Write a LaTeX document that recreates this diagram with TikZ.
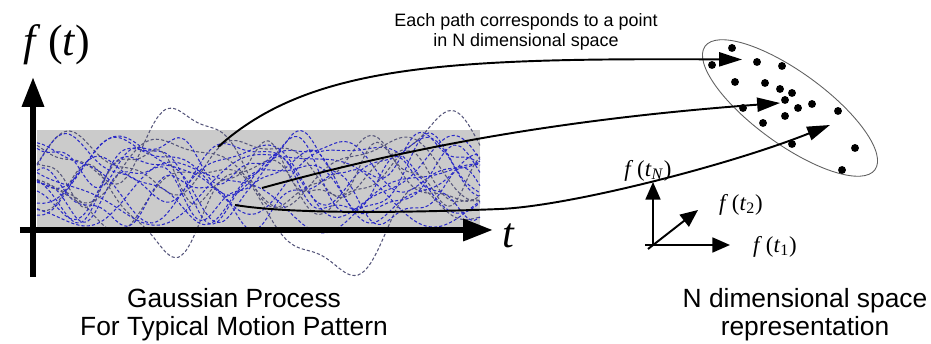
\documentclass[tikz,border=0pt]{standalone}
\usepackage{fontspec}
\setmainfont{Liberation Sans}
\newfontfamily\timesfont{Liberation Serif}
\usepackage{tikz}
\usetikzlibrary{arrows.meta,calc}
\definecolor{bandgray}{HTML}{CBCBCB}
\definecolor{pathblue}{HTML}{2A2AC8}
\definecolor{pathgray}{HTML}{55557A}
\definecolor{ringgray}{HTML}{606060}
\newcommand{\fofx}[1]{{\timesfont\textit{f}\,(#1)}}
\tikzset{
  bigaxis/.style={line width=3.4pt,-{Triangle[length=17pt,width=12pt]}},
  mapline/.style={line width=1.1pt,-{Triangle[length=13pt,width=8pt]}},
  frameaxis/.style={line width=1.1pt,-{Triangle[length=10pt,width=8.5pt]}},
  samplepath/.style={dash pattern=on 1.8pt off 1.2pt,line width=0.6pt},
  sample/.style={circle,fill=black,inner sep=0pt,minimum size=4.5pt},
  caption/.style={align=center,font=\fontsize{15}{16}\selectfont},
}

\begin{document}
\begin{tikzpicture}[scale=1]
  \useasboundingbox (0,0) rectangle (18.62,6.88);
  \fill[bandgray] (0.74,2.28) rectangle (9.60,4.28);
  \foreach \c/\a/\f/\p/\b/\m/\col in {
      3.4/0.6/110/0/1.1/3.2/pathgray, 3.0/0.6/95/60/-1.7/7.2/pathgray,
      3.2/0.5/120/200/-1.0/3.1/pathgray, 3.6/0.5/100/300/0.5/9.2/pathgray,
      3.3/0.7/90/0/0/0/pathblue, 3.2/0.6/115/120/0/0/pathblue,
      3.4/0.65/80/240/0/0/pathblue, 3.1/0.5/140/45/0/0/pathblue,
      3.5/0.55/105/300/0/0/pathblue, 3.0/0.6/70/180/0/0/pathblue,
      3.3/0.75/125/90/0/0/pathblue, 3.6/0.45/95/200/0/0/pathblue,
      2.9/0.45/130/330/0/0/pathblue, 3.4/0.5/150/20/0/0/pathgray,
      3.2/0.7/60/100/0/0/pathblue, 3.5/0.6/85/150/0/0/pathgray,
      3.1/0.55/100/230/0/0/pathblue, 3.7/0.4/135/10/0/0/pathblue} {
    \draw[samplepath,\col] plot[smooth,domain=0.74:9.6,samples=70]
      (\x,{\c+\a*sin(\f*\x+\p)+0.18*sin(2.3*\f*\x+1.7*\p)+\b*exp(-(\x-\m)*(\x-\m))});
  }

  \coordinate (vbot) at (0.66,1.34);
  \coordinate (vtop) at (0.66,5.34);
  \coordinate (hleft) at (0.40,2.28);
  \coordinate (hright) at (9.86,2.28);
  \draw[bigaxis] (vbot) -- (vtop);
  \draw[bigaxis] (hleft) -- (hright);
  \node (ftlabel) at (1.14,5.98) {\fontsize{25}{28}\selectfont\fofx{\textit{t}}};
  \node (tlabel) at (10.18,2.16) {\fontsize{24}{28}\selectfont\timesfont\textit{t}};

  \draw[ringgray,line width=0.5pt,rotate around={-36:(15.80,4.72)}]
    (15.80,4.72) ellipse [x radius=2.10cm,y radius=0.72cm];
  \foreach \x/\y [count=\i] in {14.64/5.92,14.24/5.58,15.14/5.64,15.64/5.56,
      14.70/5.24,15.30/5.22,15.60/5.10,15.84/5.02,15.70/4.88,16.24/4.80,
      15.96/4.72,14.86/4.72,15.70/4.56,15.26/4.42,16.76/4.66,15.84/4.00,
      17.10/3.92,16.84/3.48} {
    \node[sample] (d\i) at (\x,\y) {};
  }

  \coordinate (s1) at (4.36,3.94);
  \coordinate (s2) at (5.24,3.12);
  \coordinate (s3) at (4.70,2.78);
  \coordinate (e1) at (14.84,5.69);
  \coordinate (e2) at (15.60,4.82);
  \coordinate (e3) at (16.60,4.38);
  \draw[mapline] (s1) .. controls (6.2,5.6) and (9.0,5.72) .. (e1);
  \draw[mapline] (s2) .. controls (8.0,3.88) and (11.0,4.48) .. (e2);
  \draw[mapline] (s3) .. controls (5.8,2.60) and (8.0,2.62) .. (10.0,2.70)
    .. controls (11.4,2.76) and (14.6,3.58) .. (e3);

  \coordinate (orig) at (13.06,1.98);
  \coordinate (origl) at (12.90,1.98);
  \coordinate (origd) at (12.96,1.90);
  \coordinate (tip1) at (14.60,1.98);
  \coordinate (tip2) at (13.96,2.68);
  \coordinate (tipN) at (13.06,3.24);
  \draw[frameaxis] (origl) -- (tip1);
  \draw[frameaxis] (origd) -- (tip2);
  \draw[frameaxis] (orig) -- (tipN);
  \node (ftN) at (12.96,3.46) {\fontsize{13}{15}\selectfont\fofx{\textit{t}\textsubscript{\textit{N}}}};
  \node (ft2) at (14.82,2.78) {\fontsize{13}{15}\selectfont\fofx{\textit{t}\textsubscript{2}}};
  \node (ft1) at (15.50,1.94) {\fontsize{13}{15}\selectfont\fofx{\textit{t}\textsubscript{1}}};

  \node[align=center,font=\fontsize{10.2}{11.4}\selectfont] (note) at (10.52,6.24)
    {Each path corresponds to a point\\in N dimensional space};
  \node[caption] (gpcap) at (4.68,0.58) {Gaussian Process\\For Typical Motion Pattern};
  \node[caption] (spacecap) at (16.10,0.58) {N dimensional space\\representation};
\end{tikzpicture}
\end{document}
